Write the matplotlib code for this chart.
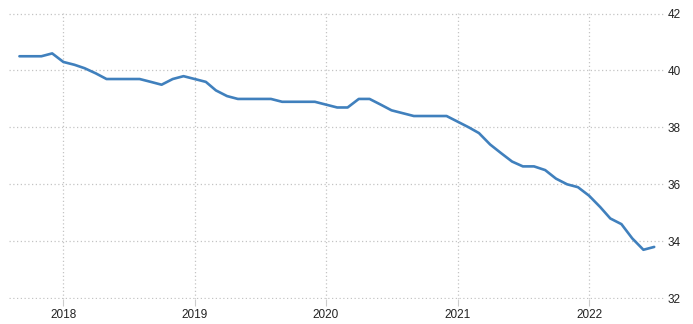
import matplotlib
matplotlib.use("Agg")
import matplotlib.pyplot as plt
import numpy as np
import pandas as pd

# monthly values, Sep 2017 .. Jul 2022
start_month = "2017-09-01"
values = [
    40.5, 40.5, 40.5, 40.6,                     # 2017 Sep-Dec
    40.3, 40.2, 40.08, 39.9, 39.7, 39.7,        # 2018 Jan-Jun
    39.7, 39.7, 39.6, 39.5, 39.7, 39.8,         # 2018 Jul-Dec
    39.7, 39.6, 39.3, 39.1, 39.0, 39.0,         # 2019 Jan-Jun
    39.0, 39.0, 38.9, 38.9, 38.9, 38.9,         # 2019 Jul-Dec
    38.8, 38.7, 38.7, 39.0, 39.0, 38.8,         # 2020 Jan-Jun
    38.6, 38.5, 38.4, 38.4, 38.4, 38.4,         # 2020 Jul-Dec
    38.2, 38.0, 37.8, 37.4, 37.1, 36.8,         # 2021 Jan-Jun
    36.63, 36.63, 36.5, 36.2, 36.0, 35.9,       # 2021 Jul-Dec
    35.6, 35.2, 34.8, 34.6, 34.1, 33.7, 33.8,   # 2022 Jan-Jul
]
year_ticks = [2018, 2019, 2020, 2021, 2022]
y_ticks = [32, 34, 36, 38, 40, 42]

dates = pd.date_range(start_month, periods=len(values), freq="MS")

plt.rcParams["font.family"] = ["Liberation Sans", "DejaVu Sans"]

fig = plt.figure(figsize=(6.93, 3.24), dpi=100)
ax = fig.add_axes([9 / 693, 1 - 299 / 324, 656 / 693, 286 / 324])

ax.plot(dates, values, color="#4080bd", linewidth=1.9, solid_joinstyle="round",
        solid_capstyle="round")

ax.set_xlim(pd.Timestamp("2017-08-03"), pd.Timestamp("2022-07-31"))
ax.set_ylim(31.97, 42.02)

ax.set_xticks([pd.Timestamp(f"{y}-01-01") for y in year_ticks])
ax.set_xticklabels([str(y) for y in year_ticks])
ax.set_yticks(y_ticks)
ax.set_yticklabels([str(v) for v in y_ticks])

ax.yaxis.tick_right()
ax.tick_params(axis="y", length=0, pad=2, labelsize=8.5, labelcolor="#222222")
ax.tick_params(axis="x", length=5, width=0.8, color="#cccccc", pad=2,
               labelsize=8.5, labelcolor="#222222")

ax.grid(True, linestyle=(0, (1, 2)), color="#c4c4c4", linewidth=0.9)
ax.set_axisbelow(True)
for s in ax.spines.values():
    s.set_visible(False)

fig.savefig("out.png", dpi=100)
